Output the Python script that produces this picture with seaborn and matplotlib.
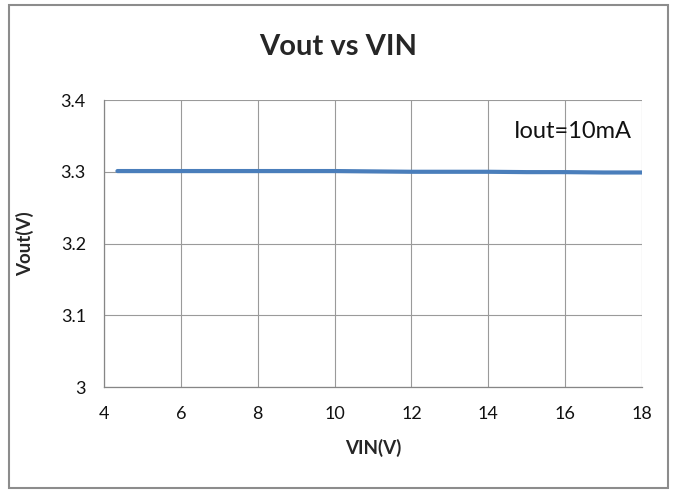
import pandas as pd
import seaborn as sns
import matplotlib.pyplot as plt
from matplotlib.patches import Rectangle

# measured output voltage vs input voltage (Iout = 10mA)
vin = [4.35, 5, 6, 7, 8, 9, 10, 11, 12, 13, 14, 15, 16, 17, 18]
vout = [3.301, 3.301, 3.301, 3.301, 3.301, 3.301, 3.301, 3.3005,
        3.300, 3.300, 3.300, 3.2995, 3.2995, 3.299, 3.299]
x_ticks = [4, 6, 8, 10, 12, 14, 16, 18]
y_ticks = [3.0, 3.1, 3.2, 3.3, 3.4]
y_tick_labels = ["3", "3.1", "3.2", "3.3", "3.4"]

data = pd.DataFrame({"VIN": vin, "Vout": vout})

sns.set_style("white")
plt.rcParams["font.family"] = ["Lato", "DejaVu Sans"]

fig = plt.figure(figsize=(6.73, 4.92), dpi=100)
ax = fig.add_axes([0.1545, 0.2134, 0.7995, 0.5833])

sns.lineplot(data=data, x="VIN", y="Vout", ax=ax, color="#4a7ebb", linewidth=3)

ax.set_xlim(4, 18)
ax.set_ylim(3.0, 3.4)
ax.set_xticks(x_ticks)
ax.set_yticks(y_ticks)
ax.set_yticklabels(y_tick_labels)
ax.grid(True, color="#9a9a9a", linewidth=0.8)
ax.set_axisbelow(True)
for side in ["top", "right"]:
    ax.spines[side].set_visible(False)
for side in ["left", "bottom"]:
    ax.spines[side].set_color("#868686")
    ax.spines[side].set_linewidth(0.9)
ax.tick_params(axis="both", direction="out", length=5, width=0.8, color="#868686",
               labelsize=13, labelcolor="#111111")
ax.tick_params(axis="x", pad=9)
ax.tick_params(axis="y", pad=8)

ax.set_xlabel("VIN(V)", fontsize=13.5, fontweight="bold", labelpad=12)
ax.set_ylabel("Vout(V)", fontsize=13.5, fontweight="bold", labelpad=19)
fig.text(0.502, 0.905, "Vout vs VIN", ha="center", va="center", fontsize=21, fontweight="bold")
ax.text(16.2, 3.356, "Iout=10mA", ha="center", va="center", fontsize=17, color="#111111")

# outer chart frame
fig.patches.append(Rectangle((0.014, 0.008), 0.979, 0.982, transform=fig.transFigure,
                             fill=False, edgecolor="#8c8c8c", linewidth=1.5))

plt.savefig("out.png", dpi=100)
